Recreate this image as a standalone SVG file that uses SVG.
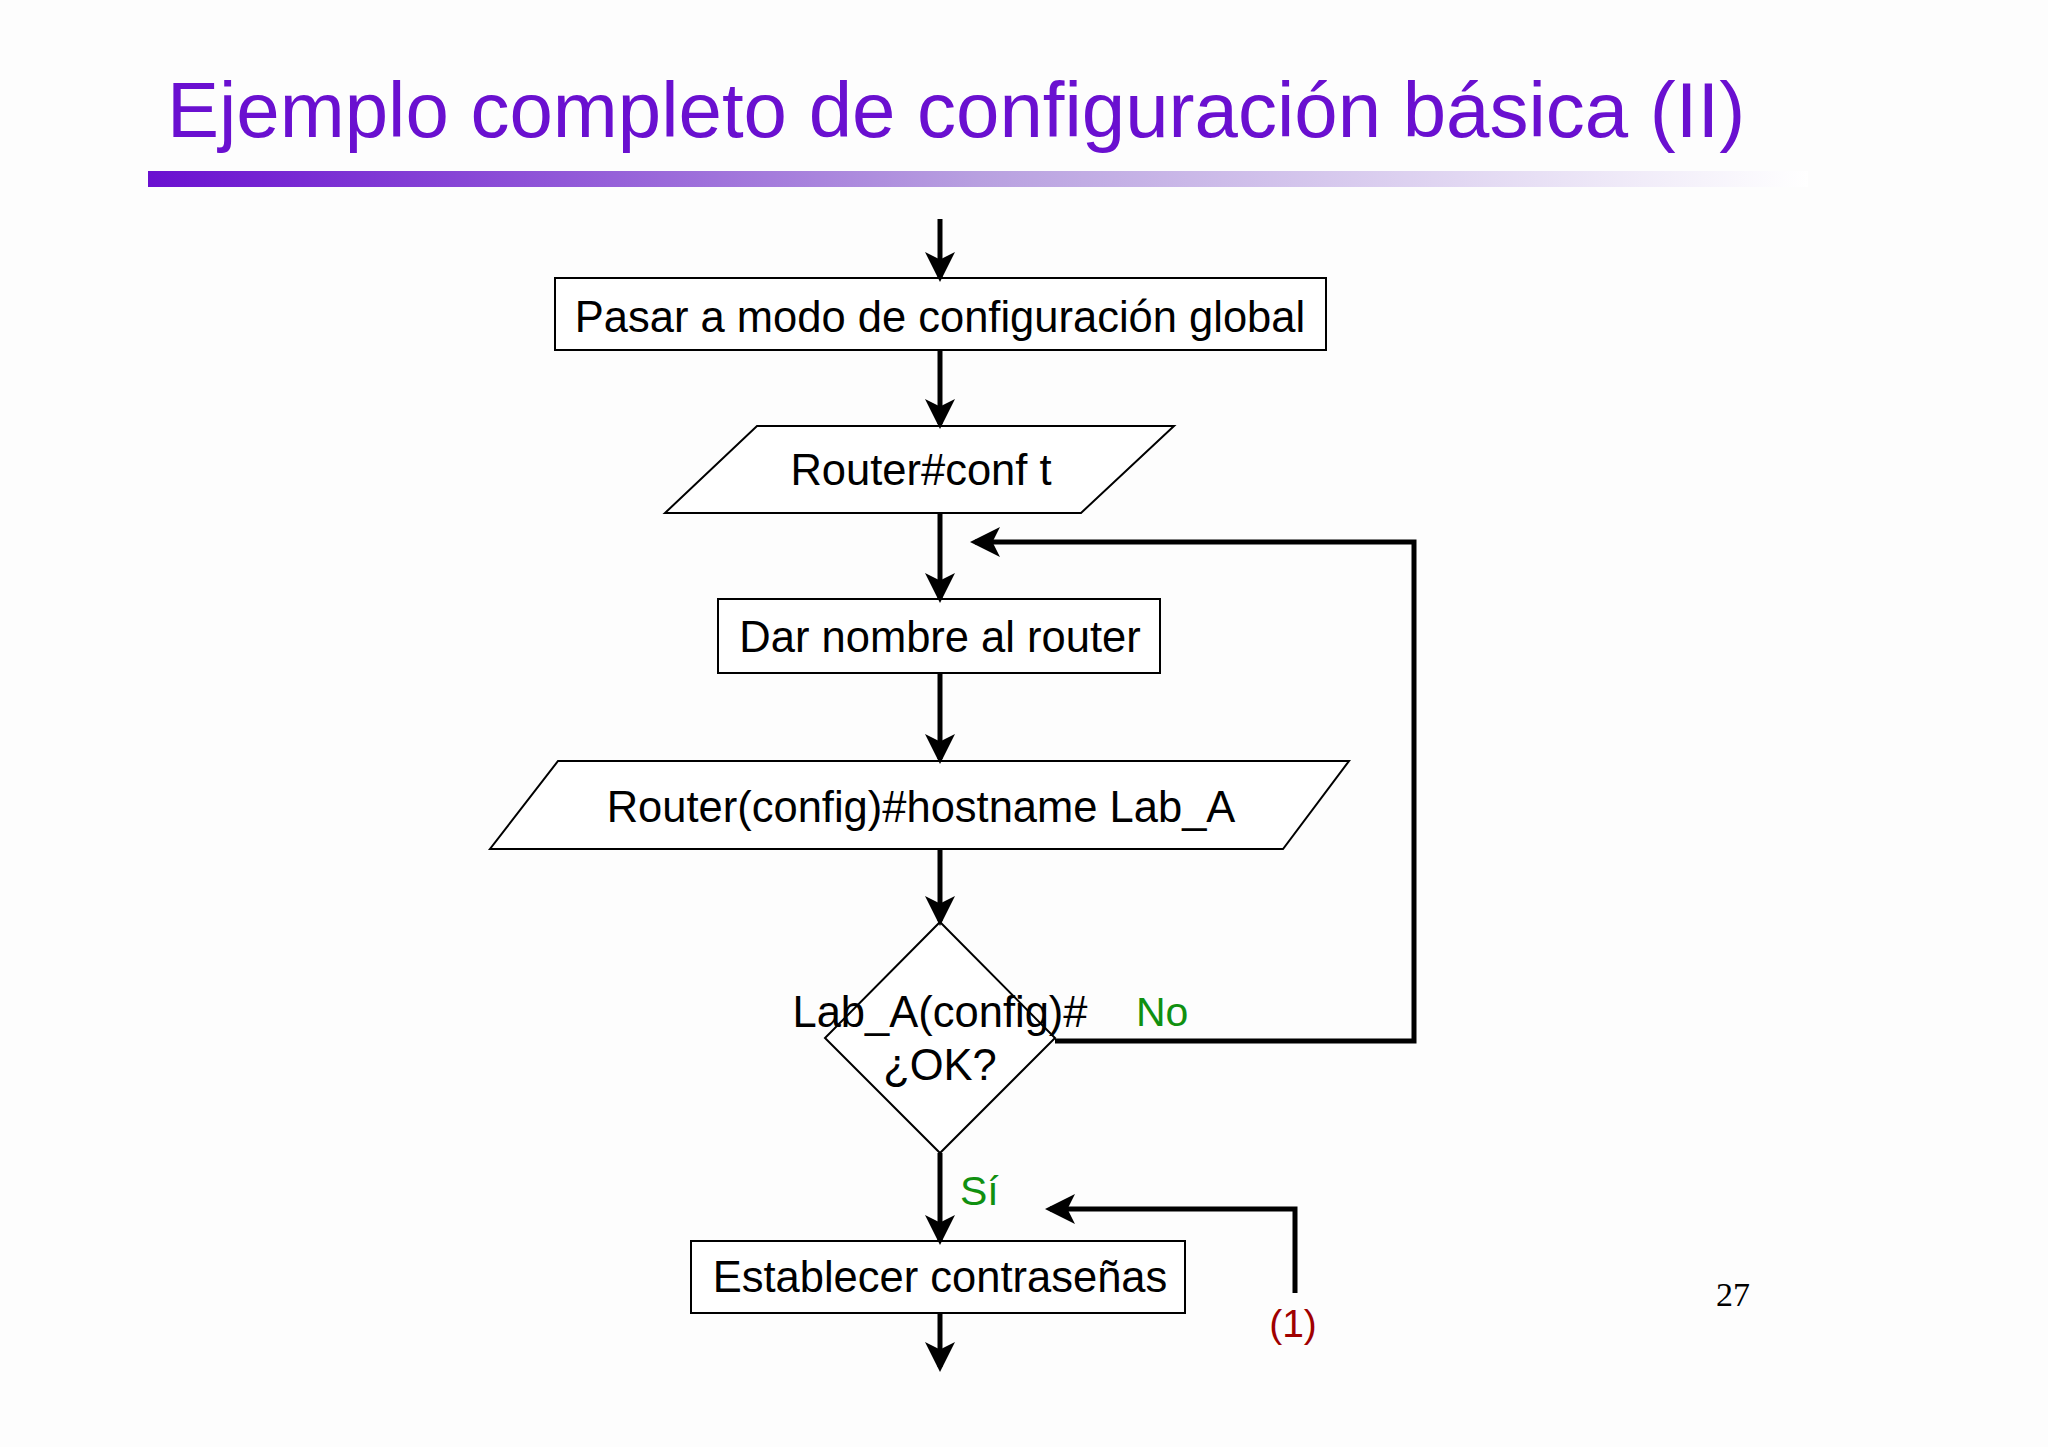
<svg xmlns="http://www.w3.org/2000/svg" width="2048" height="1447" viewBox="0 0 2048 1447">
<defs>
<linearGradient id="g" x1="0" x2="1" y1="0" y2="0"><stop offset="0" stop-color="#6a10d0"/><stop offset="0.5" stop-color="#b8a0e0"/><stop offset="1" stop-color="#ffffff"/></linearGradient>
<marker id="ah" markerWidth="6" markerHeight="6" refX="5" refY="3" orient="auto" markerUnits="strokeWidth"><path d="M0,0 L6,3 L0,6 L1.5,3 z" fill="#000"/></marker>
</defs>
<style>
.n{fill:#fff;stroke:#000;stroke-width:2}
.t{font-family:"Liberation Sans",Arial,sans-serif;font-size:43.5px;text-anchor:middle;fill:#000}
.c{fill:none;stroke:#000;stroke-width:5}
.a{marker-end:url(#ah)}
</style>
<rect width="2048" height="1447" fill="#fdfdfd"/>
<text x="167" y="137" font-family="Liberation Sans,Arial,sans-serif" font-size="78" fill="#6a10d0">Ejemplo completo de configuración básica (II)</text>
<rect x="148" y="171" width="1660" height="16" fill="url(#g)"/>
<g id="n1"><rect class="n" x="555" y="278" width="771" height="72"/><text class="t" x="940" y="332">Pasar a modo de configuración global</text></g>
<g id="n2"><polygon class="n" points="757,426 1174,426 1081,513 665,513"/><text class="t" x="921" y="485">Router#conf t</text></g>
<g id="n3"><rect class="n" x="718" y="599" width="442" height="74"/><text class="t" x="940" y="652">Dar nombre al router</text></g>
<g id="n4"><polygon class="n" points="558,761 1349,761 1283,849 490,849"/><text class="t" x="921" y="822">Router(config)#hostname Lab_A</text></g>
<g id="n5"><polygon class="n" points="940,922 1055,1038 940,1153 825,1038"/><text class="t" x="940" y="1027">Lab_A(config)#</text><text class="t" x="940" y="1080">¿OK?</text></g>
<g id="n6"><rect class="n" x="691" y="1241" width="494" height="72"/><text class="t" x="940" y="1292">Establecer contraseñas</text></g>
<g id="connectors">
<line class="c a" x1="940" y1="219" x2="940" y2="277"/>
<line class="c a" x1="940" y1="350" x2="940" y2="424"/>
<line class="c a" x1="940" y1="513" x2="940" y2="598"/>
<line class="c a" x1="940" y1="673" x2="940" y2="759"/>
<line class="c a" x1="940" y1="849" x2="940" y2="921"/>
<polyline class="c a" points="1055,1041 1414,1041 1414,542 975,542"/>
<line class="c a" x1="940" y1="1153" x2="940" y2="1240"/>
<line class="c a" x1="940" y1="1313" x2="940" y2="1367"/>
<polyline class="c a" points="1295,1293 1295,1209 1050,1209"/>
</g>
<text x="1136" y="1026" font-family="Liberation Sans,Arial,sans-serif" font-size="41" fill="#109010">No</text>
<text x="960" y="1205" font-family="Liberation Sans,Arial,sans-serif" font-size="41" fill="#109010">Sí</text>
<text x="1293" y="1337" font-family="Liberation Sans,Arial,sans-serif" font-size="39" fill="#a00000" text-anchor="middle">(1)</text>
<text x="1733" y="1306" font-family="Liberation Serif,Times New Roman,serif" font-size="34" fill="#000" text-anchor="middle">27</text>
</svg>
